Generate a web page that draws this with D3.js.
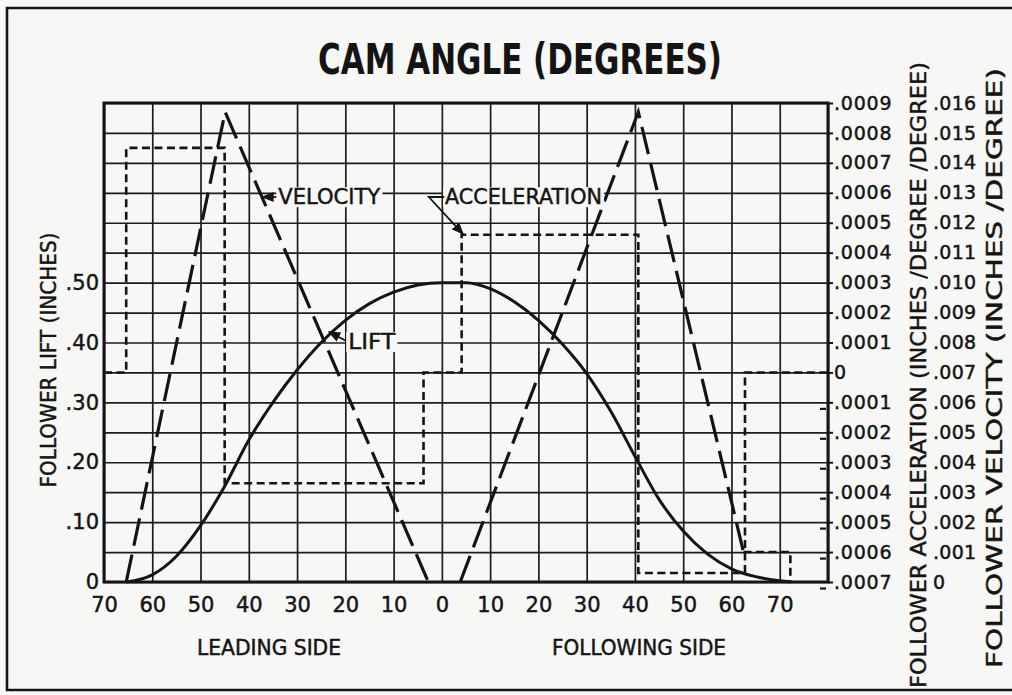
<!DOCTYPE html>
<html>
<head>
<meta charset="utf-8">
<script src="https://cdn.jsdelivr.net/npm/d3@7"></script>
<style>
  html, body { margin: 0; padding: 0; background: #f7f7f5; }
  svg { display: block; }
  text { fill: #141414; font-family: "DejaVu Sans", "Noto Sans", sans-serif; }
  .ink { stroke: #141414; stroke-width: 0.45; }
  .narrow { font-family: "Liberation Sans Narrow", "DejaVu Sans Condensed", "DejaVu Sans", sans-serif; font-stretch: condensed; }
</style>
</head>
<body>
<svg id="chart" width="1012" height="695"></svg>
<script>
// ---- Axis ticks and labels ----
const angleTicks  = [-70, -60, -50, -40, -30, -20, -10, 0, 10, 20, 30, 40, 50, 60, 70, 80];
const angleLabels = ["70", "60", "50", "40", "30", "20", "10", "0", "10", "20", "30", "40", "50", "60", "70", ""];
const liftTicks   = [0, 0.1, 0.2, 0.3, 0.4, 0.5];
const liftLabels  = ["0", ".10", ".20", ".30", ".40", ".50"];
const accTicks    = [-0.0007, -0.0006, -0.0005, -0.0004, -0.0003, -0.0002, -0.0001, 0,
                     0.0001, 0.0002, 0.0003, 0.0004, 0.0005, 0.0006, 0.0007, 0.0008, 0.0009];
const accLabels   = [".0007", ".0006", ".0005", ".0004", ".0003", ".0002", ".0001", "0",
                     ".0001", ".0002", ".0003", ".0004", ".0005", ".0006", ".0007", ".0008", ".0009"];
const velTicks    = [0, 0.001, 0.002, 0.003, 0.004, 0.005, 0.006, 0.007, 0.008,
                     0.009, 0.010, 0.011, 0.012, 0.013, 0.014, 0.015, 0.016];
const velLabels   = ["0", ".001", ".002", ".003", ".004", ".005", ".006", ".007", ".008",
                     ".009", ".010", ".011", ".012", ".013", ".014", ".015", ".016"];

// ---- Follower lift (inches) vs cam angle (degrees) ----
const liftAngle = [-65.4, -60, -55, -50, -45, -40, -35, -30, -25, -20, -15, -10, -5, 0,
                   5, 10, 15, 20, 25, 30, 35, 40, 45, 50, 55, 60, 65, 70, 72.3];
const liftValue = [0, 0.012, 0.043, 0.094, 0.160, 0.237, 0.300, 0.354, 0.400, 0.437, 0.465, 0.484, 0.496, 0.500,
                   0.500, 0.490, 0.468, 0.437, 0.397, 0.348, 0.285, 0.210, 0.138, 0.085, 0.047, 0.022, 0.009, 0.002, 0];

// ---- Follower velocity (inches/degree) ----
const velLeadAngle   = [-65.4, -44.9, -2.8];
const velLeadValue   = [0, 0.0157, 0];
const velFollowAngle = [3.8, 40.7, 62.5];
const velFollowValue = [0, 0.0157, 0.001];
const velTailAngle   = [62.5, 72.2, 72.2];
const velTailValue   = [0.001, 0.001, 0];

// ---- Follower acceleration (inches/degree/degree), stepwise ----
const accAngle = [-70, -65.4, -45.0, -3.8, 4.1, 40.7, 62.8, 80];
const accValue = [0, 0.00075, -0.00037, 0, 0.00046, -0.00067, 0, 0];

// ---- Layout ----
const paper = "#f7f7f5";
const ink = "#141414";
const plot = { left: 104, right: 828, top: 103, bottom: 582 };

const svg = d3.select("#chart");
svg.append("rect").attr("width", 1012).attr("height", 695).attr("fill", paper);

const x     = d3.scaleLinear().domain([-70, 80]).range([plot.left, plot.right]);
const yLift = d3.scaleLinear().domain([0, 0.8]).range([plot.bottom, plot.top]);
const yVel  = d3.scaleLinear().domain([0, 0.016]).range([plot.bottom, plot.top]);
const yAcc  = d3.scaleLinear().domain([-0.0007, 0.0009]).range([plot.bottom, plot.top]);

// sheet border
svg.append("path")
  .attr("d", "M1020,8 L7,8 L7,690 L1020,690")
  .attr("fill", "none").attr("stroke", ink).attr("stroke-width", 2.6);

// grid
const gridRows = d3.range(0, 17).map(i => i * 0.05);
svg.append("g")
  .attr("transform", `translate(0,${plot.bottom})`)
  .call(d3.axisBottom(x).tickValues(angleTicks).tickSize(-(plot.bottom - plot.top)).tickFormat(""))
  .call(g => g.select(".domain").remove())
  .call(g => g.selectAll("line").attr("stroke", "#1c1c1c").attr("stroke-width", 1.7));
svg.append("g")
  .attr("transform", `translate(${plot.left},0)`)
  .call(d3.axisLeft(yLift).tickValues(gridRows).tickSize(-(plot.right - plot.left)).tickFormat(""))
  .call(g => g.select(".domain").remove())
  .call(g => g.selectAll("line").attr("stroke", "#1c1c1c").attr("stroke-width", 1.7));

// plot frame
svg.append("rect")
  .attr("x", plot.left).attr("y", plot.top)
  .attr("width", plot.right - plot.left).attr("height", plot.bottom - plot.top)
  .attr("fill", "none").attr("stroke", ink).attr("stroke-width", 3);

// bottom angle labels
svg.append("g")
  .attr("transform", `translate(0,${plot.bottom})`)
  .call(d3.axisBottom(x).tickValues(angleTicks).tickSize(0).tickPadding(15)
        .tickFormat((d, i) => angleLabels[i]))
  .call(g => g.select(".domain").remove())
  .call(g => g.selectAll("text").attr("font-size", 21).attr("font-family", null).attr("class", "ink"));

// left lift labels
svg.append("g")
  .attr("transform", `translate(${plot.left},0)`)
  .call(d3.axisLeft(yLift).tickValues(liftTicks).tickSize(0).tickPadding(5)
        .tickFormat((d, i) => liftLabels[i]))
  .call(g => g.select(".domain").remove())
  .call(g => g.selectAll("text").attr("font-size", 21).attr("font-family", null).attr("class", "ink"));

// right acceleration axis
const accAxis = svg.append("g")
  .attr("transform", `translate(${plot.right},0)`)
  .call(d3.axisRight(yAcc).tickValues(accTicks).tickSize(5).tickPadding(1)
        .tickFormat((d, i) => accLabels[i]))
  .call(g => g.select(".domain").remove());
accAxis.selectAll("line").attr("stroke", ink).attr("stroke-width", 2);
accAxis.selectAll("text").attr("font-size", 19).attr("letter-spacing", 0.8)
  .attr("font-family", null).attr("class", "ink");
// minus marks for the negative acceleration values
accAxis.selectAll(".tick").filter(d => d < 0)
  .append("line")
  .attr("x1", -8).attr("x2", -2).attr("y1", 6).attr("y2", 6)
  .attr("stroke", ink).attr("stroke-width", 2.2);

// right velocity labels
svg.append("g")
  .attr("transform", `translate(933,0)`)
  .call(d3.axisRight(yVel).tickValues(velTicks).tickSize(0).tickPadding(0)
        .tickFormat((d, i) => velLabels[i]))
  .call(g => g.select(".domain").remove())
  .call(g => g.selectAll("text").attr("font-size", 19).attr("letter-spacing", 0.3)
        .attr("font-family", null).attr("class", "ink"));

// ---- series ----
const liftLine = d3.line().x(d => x(d[0])).y(d => yLift(d[1])).curve(d3.curveMonotoneX);
svg.append("path")
  .datum(d3.zip(liftAngle, liftValue))
  .attr("d", liftLine)
  .attr("fill", "none").attr("stroke", ink).attr("stroke-width", 3);

const velLine = d3.line().x(d => x(d[0])).y(d => yVel(d[1]));
[[velLeadAngle, velLeadValue], [velFollowAngle, velFollowValue]].forEach(([a, v]) => {
  svg.append("path")
    .datum(d3.zip(a, v))
    .attr("d", velLine)
    .attr("fill", "none").attr("stroke", ink).attr("stroke-width", 3.2)
    .attr("stroke-dasharray", "28,9");
});
svg.append("path")
  .datum(d3.zip(velTailAngle, velTailValue))
  .attr("d", velLine)
  .attr("fill", "none").attr("stroke", ink).attr("stroke-width", 2.6)
  .attr("stroke-dasharray", "8,4.5");

const accLine = d3.line().x(d => x(d[0])).y(d => yAcc(d[1])).curve(d3.curveStepAfter);
svg.append("path")
  .datum(d3.zip(accAngle, accValue))
  .attr("d", accLine)
  .attr("fill", "none").attr("stroke", ink).attr("stroke-width", 2.6)
  .attr("stroke-dasharray", "8,4.5");

// ---- callouts ----
svg.append("defs").append("marker")
  .attr("id", "tip").attr("viewBox", "0 0 10 10")
  .attr("refX", 9).attr("refY", 5)
  .attr("markerWidth", 7).attr("markerHeight", 7)
  .attr("orient", "auto-start-reverse")
  .append("path").attr("d", "M0,1 L10,5 L0,9 Z").attr("fill", ink);

function callout(label, at, leader, width) {
  const t = svg.append("text")
    .attr("class", "ink")
    .attr("x", x(at[0])).attr("y", yLift(at[1]))
    .attr("font-size", 21)
    .attr("textLength", width).attr("lengthAdjust", "spacingAndGlyphs")
    .text(label);
  const b = t.node().getBBox();
  svg.insert("rect", () => t.node())
    .attr("x", b.x - 2).attr("y", b.y + 2).attr("width", b.width + 4).attr("height", b.height - 4)
    .attr("fill", paper);
  svg.append("path")
    .attr("d", d3.line().x(d => x(d[0])).y(d => yLift(d[1]))(leader))
    .attr("fill", "none").attr("stroke", ink).attr("stroke-width", 1.8)
    .attr("marker-end", "url(#tip)");
}
callout("VELOCITY", [-33.9, 0.631], [[-34.3, 0.643], [-37.2, 0.643]], 102);
callout("ACCELERATION", [0.65, 0.631], [[0.5, 0.643], [-2.7, 0.643], [4.4, 0.581]], 157);
callout("LIFT", [-19.4, 0.389], [[-19.9, 0.403], [-23.4, 0.418]], 47);

// ---- titles ----
svg.append("text")
  .attr("class", "narrow")
  .attr("x", 520).attr("y", 74)
  .attr("text-anchor", "middle")
  .attr("font-size", 42).attr("font-weight", "bold")
  .attr("textLength", 404).attr("lengthAdjust", "spacingAndGlyphs")
  .text("CAM ANGLE (DEGREES)");

svg.append("text")
  .attr("class", "narrow ink")
  .attr("x", 269).attr("y", 655)
  .attr("text-anchor", "middle").attr("font-size", 22)
  .attr("textLength", 144).attr("lengthAdjust", "spacingAndGlyphs")
  .text("LEADING SIDE");
svg.append("text")
  .attr("class", "narrow ink")
  .attr("x", 639).attr("y", 655)
  .attr("text-anchor", "middle").attr("font-size", 22)
  .attr("textLength", 174).attr("lengthAdjust", "spacingAndGlyphs")
  .text("FOLLOWING SIDE");

function sideTitle(label, cx, cy, len, size) {
  svg.append("text")
    .attr("class", "ink")
    .attr("transform", `translate(${cx},${cy}) rotate(-90)`)
    .attr("text-anchor", "middle")
    .attr("font-size", size)
    .attr("textLength", len).attr("lengthAdjust", "spacingAndGlyphs")
    .text(label);
}
sideTitle("FOLLOWER LIFT (INCHES)", 56, 360, 255, 21);
sideTitle("FOLLOWER ACCELERATION (INCHES /DEGREE /DEGREE)", 926, 375, 626, 22);
sideTitle("FOLLOWER VELOCITY (INCHES /DEGREE)", 1002, 368, 600, 22);
</script>
</body>
</html>
